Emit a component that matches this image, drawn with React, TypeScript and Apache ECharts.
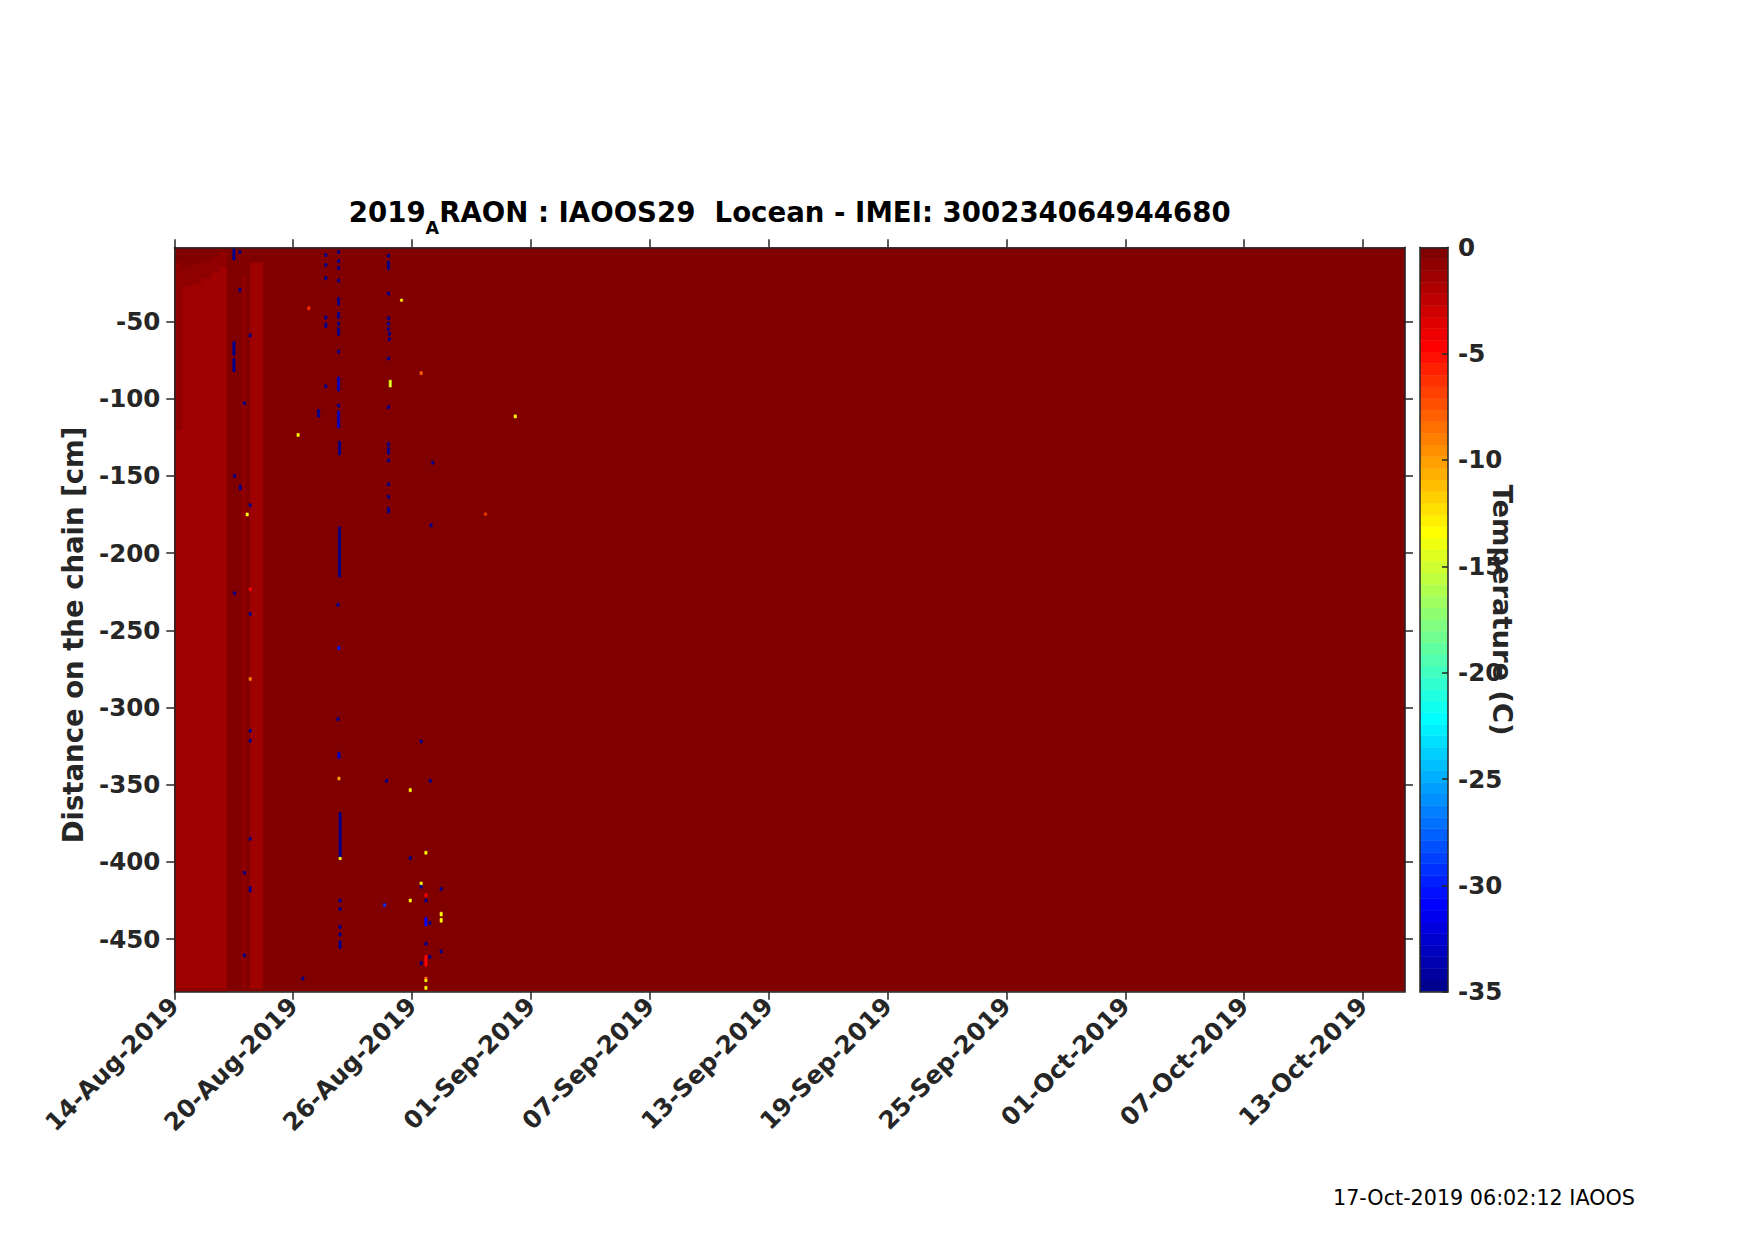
import React, { useEffect, useRef } from 'react';
import * as echarts from 'echarts';

// ---------- axes / ticks (x in days since 14-Aug-2019 00:00, y in cm) ----------
const xTickDays = [0, 6, 12, 18, 24, 30, 36, 42, 48, 54, 60];
const xTickLabels = [
  '14-Aug-2019', '20-Aug-2019', '26-Aug-2019', '01-Sep-2019', '07-Sep-2019', '13-Sep-2019',
  '19-Sep-2019', '25-Sep-2019', '01-Oct-2019', '07-Oct-2019', '13-Oct-2019',
];
const dayRange = [0, 62.12];
const yTicks = [-450, -400, -350, -300, -250, -200, -150, -100, -50];
const depthRange = [-484, -2];
const cbTicks = [-35, -30, -25, -20, -15, -10, -5, 0];
const tempRange = [-35, 0];
const colorLevels = 64;

const titleMain1 = '2019';
const titleSub = 'A';
const titleMain2 = 'RAON : IAOOS29  Locean - IMEI: 300234064944680';
const yLabel = 'Distance on the chain [cm]';
const cbLabel = 'Temperature (C)';
const footer = '17-Oct-2019 06:02:12 IAOOS';

// ---------- temperature field: large blocks ----------
const blockStart = [0, 0.0, 0.37, 0.85, 1.35, 1.85, 2.25, 0.0, 0.37, 0.85, 1.35, 1.85, 2.25, 0.0, 3.82, 3.40];
const blockEnd = [62.12, 0.37, 0.85, 1.35, 1.85, 2.25, 2.64, 0.37, 0.85, 1.35, 1.85, 2.25, 2.64, 2.64, 4.47, 3.62];
const blockTop = [-2, -120, -27, -25, -22, -18, -14, -12, -15, -13, -11, -8, -5, -482, -12, -20];
const blockBottom = [-484, -482, -482, -482, -482, -482, -482, -120, -27, -25, -22, -18, -14, -484, -482, -482];
const blockTemp = [-0.3, -1.4, -1.4, -1.4, -1.4, -1.4, -1.4, -0.8, -0.8, -0.8, -0.8, -0.8, -0.8, -0.8, -1.4, -0.8];

// ---------- temperature field: isolated anomalous readings ----------
const sampleStep = 0.12; // days per reading
const spikeDay = [
  2.95, 2.95, 2.95, 2.98, 2.98,
  3.25, 3.25, 3.27,
  3.77, 3.77, 3.77, 3.77, 3.77, 3.77, 3.77, 3.77, 3.77,
  3.48, 3.48, 3.48, 3.62,
  7.22,
  7.59, 7.59, 7.59, 7.59, 7.59, 7.59,
  8.23, 8.23, 8.23, 8.23, 8.23, 8.23, 8.23, 8.23, 8.23, 8.23, 8.23, 8.23,
  8.28, 8.28, 8.28, 8.20,
  8.25, 8.20, 8.25, 8.25,
  8.31, 8.31, 8.31, 8.31, 8.31, 8.31, 8.31,
  6.73, 6.19, 6.43,
  10.75, 10.75, 10.75, 10.75, 10.75, 10.75, 10.75, 10.80, 10.80, 10.75, 10.75, 10.75, 10.75, 10.75, 10.75, 10.75, 10.75,
  10.84, 11.41, 12.40,
  12.99, 12.90,
  12.40, 10.65, 12.86, 11.85,
  11.85, 11.85, 10.56, 12.40, 12.40, 12.40,
  12.64, 12.64, 12.64, 12.64, 12.64, 12.64, 12.64, 12.64, 12.64,
  12.84, 12.84,
  13.41, 13.41, 13.41, 13.41,
  17.15, 15.65,
];
const spikeTop = [
  -2.8, -63, -74, -149, -225,
  -4, -28.5, -156,
  -58, -168, -238.5, -280.5, -314, -320.5, -384, -416, -222.5,
  -102, -406, -459.5, -174,
  -107,
  -6, -12.5, -21, -46.5, -51, -91,
  -4, -10, -14.5, -22.5, -34.5, -44, -50.5, -54, -68.5, -86, -103.5, -108,
  -127.5, -183, -185.5, -232.5,
  -260.5, -306.5, -329, -345,
  -368, -397, -424, -429.5, -441, -446, -451,
  -40.5, -122.5, -474.5,
  -6.5, -11, -14.5, -31, -47, -50.5, -54, -57, -60.5, -73, -104.5, -128.5, -131.5, -139, -154.5, -162.5, -170.5,
  -88, -35.5, -82.5,
  -140.5, -181,
  -321, -346.5, -346.5, -352.5,
  -396.5, -424, -427, -413, -415, -464.5,
  -393, -420.5, -424, -436, -452, -460.5, -474.5, -476, -480.5,
  -438.5, -460.5,
  -416.5, -432.5, -436.5, -457,
  -110.5, -174,
];
const spikeLen = [
  7.5, 9, 8.5, 2, 2,
  2, 2, 3,
  2, 2, 2, 2, 2, 2, 2, 3.5, 2,
  2, 2, 2, 2,
  5,
  2, 2, 2, 2, 3, 2,
  2, 2, 2, 2, 5, 4, 2, 5, 2, 9, 2, 11,
  9, 2, 30, 2,
  2, 2, 4, 2,
  29, 1.5, 2, 2, 2, 2, 5,
  2, 2, 2,
  2, 3.5, 2, 2, 2, 2, 2, 2, 2, 2, 2, 2, 4.5, 2, 2, 2, 3.5,
  4.5, 1.5, 2,
  2, 2,
  2, 2, 2, 2,
  2, 2, 2, 2, 2, 2,
  2, 2, 2, 5.5, 2, 7, 1.5, 1.5, 2,
  2, 2,
  2, 2.5, 2.5, 2,
  2, 1.5,
];
const spikeTemp = [
  -34.5, -34.5, -34.5, -34.8, -34.8,
  -34.8, -34.8, -34.8,
  -34.8, -34.8, -34.8, -9, -34.8, -34.8, -34.8, -34.8, -4.5,
  -34.8, -34.8, -34.8, -13.5,
  -34.5,
  -34.8, -34.8, -34.8, -34.8, -34.8, -34.8,
  -34.8, -34.8, -34.8, -34.8, -34.8, -34.8, -34.8, -34.8, -34.8, -33, -34.8, -33,
  -34.5, -34.8, -34.5, -34.8,
  -30, -34.8, -33, -10,
  -34.5, -13.5, -34.8, -34.8, -34.8, -34.8, -34.5,
  -6.5, -13.5, -34.8,
  -34.8, -34.8, -34.8, -34.8, -34.8, -34.8, -34.8, -34.8, -34.8, -34.8, -34.8, -34.8, -34.8, -34.8, -34.8, -34.8, -34.8,
  -14.5, -13.5, -8,
  -34.8, -34.8,
  -34.8, -34.8, -34.8, -13.5,
  -34.8, -13.5, -29, -13.5, -34.8, -34.8,
  -13.5, -4.5, -34.8, -31, -34.8, -4.5, -8, -13.5, -13.5,
  -34.8, -34.8,
  -34.8, -13.5, -13.5, -34.8,
  -13.5, -7,
];

// MATLAB jet colormap
function jetColors(m: number): string[] {
  const n = Math.ceil(m / 4);
  const u: number[] = [];
  for (let i = 1; i <= n; i++) u.push(i / n);
  for (let i = 1; i < n; i++) u.push(1);
  for (let i = n; i >= 1; i--) u.push(i / n);
  const gOff = Math.ceil(n / 2) - (m % 4 === 1 ? 1 : 0);
  const J = Array.from({ length: m }, () => [0, 0, 0]);
  u.forEach((val, idx) => {
    const g = gOff + idx + 1;
    const r = g + n;
    const b = g - n;
    if (r >= 1 && r <= m) J[r - 1][0] = val;
    if (g >= 1 && g <= m) J[g - 1][1] = val;
    if (b >= 1 && b <= m) J[b - 1][2] = val;
  });
  return J.map(([r, g, b]) => `rgb(${Math.round(r * 255)},${Math.round(g * 255)},${Math.round(b * 255)})`);
}

const FONT = "'DejaVu Sans', sans-serif";
const AX = '#262626';

export default function App() {
  const ref = useRef<HTMLDivElement>(null);

  useEffect(() => {
    if (!ref.current) return;
    const chart = echarts.init(ref.current, undefined, { renderer: 'svg' });

    const colors = jetColors(colorLevels);
    const step = (tempRange[1] - tempRange[0]) / colorLevels;
    const pieces = colors.map((c, k) => ({
      min: tempRange[0] + k * step,
      max: tempRange[0] + (k + 1) * step,
      color: c,
    }));

    const blockData = blockStart.map((s, i) => [s, blockEnd[i], blockTop[i], blockBottom[i], blockTemp[i]]);
    const spikeData = spikeDay.map((d, i) => [d, d + sampleStep, spikeTop[i], spikeTop[i] - spikeLen[i], spikeTemp[i]]);
    const cbData = colors.map((_, k) => {
      const lo = tempRange[0] + k * step;
      const hi = lo + step;
      return [0, 1, hi, lo, (lo + hi) / 2];
    });

    const renderCell = (params: any, api: any) => {
      const p0 = api.coord([api.value(0), api.value(2)]);
      const p1 = api.coord([api.value(1), api.value(3)]);
      const color = api.visual('color');
      return {
        type: 'rect',
        shape: { x: p0[0], y: p0[1], width: p1[0] - p0[0], height: p1[1] - p0[1] },
        style: { fill: color, stroke: color, lineWidth: 0.5 },
      };
    };

    const lineStyle = { color: AX, width: 1.5 };
    const labelStyle = { fontFamily: FONT, fontWeight: 'bold' as const, fontSize: 24.5, color: AX };

    const option: any = {
      animation: false,
      backgroundColor: '#ffffff',
      title: {
        text: `{m|${titleMain1}}{s|${titleSub}}{m|${titleMain2}}`,
        left: 789.7,
        top: 198,
        textAlign: 'center',
        padding: 0,
        textStyle: {
          rich: {
            m: { fontFamily: FONT, fontWeight: 'bold', fontSize: 27.6, color: '#000', lineHeight: 32, verticalAlign: 'top' },
            s: { fontFamily: FONT, fontWeight: 'bold', fontSize: 17.5, color: '#000', lineHeight: 20, padding: [21, 0, 0, 0], verticalAlign: 'top' },
          },
        },
      },
      grid: [
        { left: 174.3, top: 247.3, width: 1230.7, height: 744.4 },
        { left: 1420, top: 247.3, width: 28, height: 744.4 },
      ],
      visualMap: {
        type: 'piecewise',
        show: false,
        dimension: 4,
        seriesIndex: [0, 1, 2],
        pieces,
      },
      xAxis: [
        {
          gridIndex: 0, type: 'value', min: dayRange[0], max: dayRange[1], position: 'bottom', z: 10,
          axisLine: { show: true, onZero: false, lineStyle },
          axisTick: { show: true, customValues: xTickDays, length: 8, inside: false, lineStyle },
          axisLabel: {
            ...labelStyle, customValues: xTickDays, rotate: 45, margin: 10,
            formatter: (v: number) => {
              const i = xTickDays.indexOf(Math.round(v));
              return i >= 0 ? xTickLabels[i] : '';
            },
          },
          splitLine: { show: false },
        },
        {
          gridIndex: 0, type: 'value', min: dayRange[0], max: dayRange[1], position: 'top', z: 10,
          axisLine: { show: true, onZero: false, lineStyle },
          axisTick: { show: true, customValues: xTickDays, length: 8, inside: false, lineStyle },
          axisLabel: { show: false },
          splitLine: { show: false },
        },
        {
          gridIndex: 1, type: 'value', min: 0, max: 1, position: 'bottom', z: 10,
          axisLine: { show: true, onZero: false, lineStyle },
          axisTick: { show: false }, axisLabel: { show: false }, splitLine: { show: false },
        },
        {
          gridIndex: 1, type: 'value', min: 0, max: 1, position: 'top', z: 10,
          axisLine: { show: true, onZero: false, lineStyle },
          axisTick: { show: false }, axisLabel: { show: false }, splitLine: { show: false },
        },
      ],
      yAxis: [
        {
          gridIndex: 0, type: 'value', min: depthRange[0], max: depthRange[1], position: 'left', z: 10,
          axisLine: { show: true, onZero: false, lineStyle },
          axisTick: { show: true, customValues: yTicks, length: 8, inside: false, lineStyle },
          axisLabel: { ...labelStyle, customValues: yTicks, margin: 14 },
          splitLine: { show: false },
        },
        {
          gridIndex: 0, type: 'value', min: depthRange[0], max: depthRange[1], position: 'right', z: 10,
          axisLine: { show: true, onZero: false, lineStyle },
          axisTick: { show: true, customValues: yTicks, length: 8, inside: false, lineStyle },
          axisLabel: { show: false },
          splitLine: { show: false },
        },
        {
          gridIndex: 1, type: 'value', min: tempRange[0], max: tempRange[1], position: 'right', z: 10,
          axisLine: { show: true, onZero: false, lineStyle },
          axisTick: { show: true, customValues: cbTicks, length: 6, inside: true, lineStyle },
          axisLabel: { ...labelStyle, customValues: cbTicks, margin: 10 },
          splitLine: { show: false },
        },
        {
          gridIndex: 1, type: 'value', min: tempRange[0], max: tempRange[1], position: 'left', z: 10,
          axisLine: { show: true, onZero: false, lineStyle },
          axisTick: { show: false }, axisLabel: { show: false }, splitLine: { show: false },
        },
      ],
      series: [
        {
          type: 'custom', name: 'field', coordinateSystem: 'cartesian2d', xAxisIndex: 0, yAxisIndex: 0,
          data: blockData, renderItem: renderCell, clip: true, encode: { x: [0, 1], y: [2, 3] },
        },
        {
          type: 'custom', name: 'readings', coordinateSystem: 'cartesian2d', xAxisIndex: 0, yAxisIndex: 0,
          data: spikeData, renderItem: renderCell, clip: true, encode: { x: [0, 1], y: [2, 3] },
        },
        {
          type: 'custom', name: 'colorbar', coordinateSystem: 'cartesian2d', xAxisIndex: 2, yAxisIndex: 2,
          data: cbData, renderItem: renderCell, clip: true, encode: { x: [0, 1], y: [2, 3] },
        },
      ],
      graphic: [
        {
          type: 'text', x: 73, y: 635, rotation: Math.PI / 2,
          style: { text: yLabel, fontFamily: FONT, fontWeight: 'bold', fontSize: 27.5, fill: AX, align: 'center', verticalAlign: 'middle' },
        },
        {
          type: 'text', x: 1502, y: 610, rotation: -Math.PI / 2,
          style: { text: cbLabel, fontFamily: FONT, fontWeight: 'bold', fontSize: 27.3, fill: AX, align: 'center', verticalAlign: 'middle' },
        },
        {
          type: 'text', x: 1333, y: 1198,
          style: { text: footer, fontFamily: FONT, fontSize: 20.7, fill: '#000', align: 'left', verticalAlign: 'middle' },
        },
      ],
    };

    chart.setOption(option);
    return () => chart.dispose();
  }, []);

  return <div ref={ref} style={{ position: 'absolute', left: 0, top: 0, width: 1754, height: 1240 }} />;
}
